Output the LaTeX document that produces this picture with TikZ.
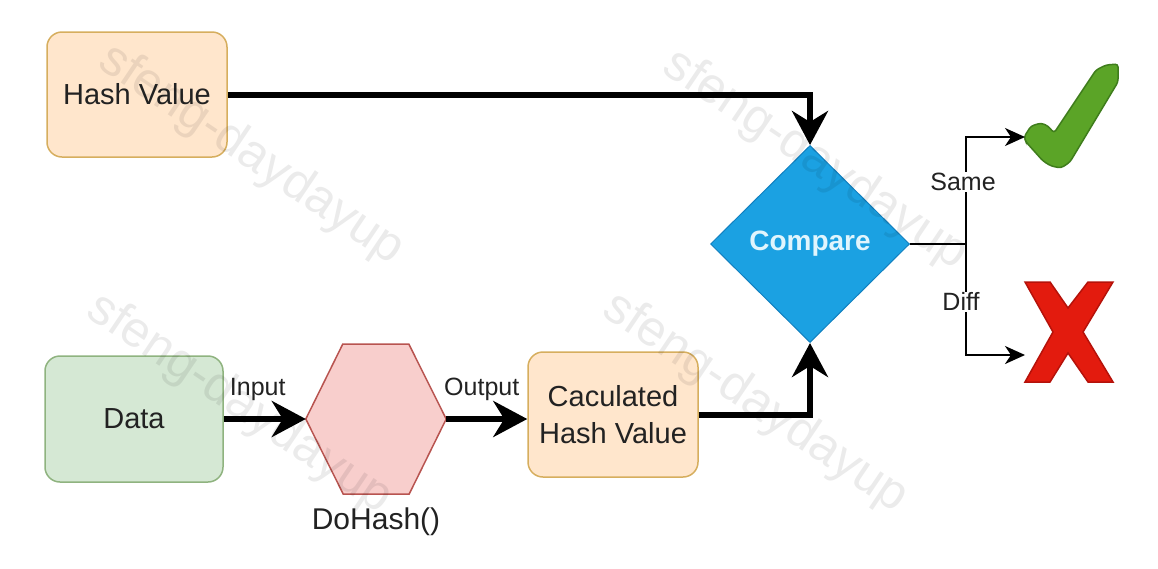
\documentclass[tikz,border=0pt]{standalone}
\usepackage{fontspec}
\setmainfont{Liberation Sans}
\usetikzlibrary{shapes.geometric,arrows.meta}
\definecolor{orfill}{HTML}{FFE6CC}
\definecolor{ordraw}{HTML}{D6AE5E}
\definecolor{grfill}{HTML}{D5E8D4}
\definecolor{grdraw}{HTML}{8FB37F}
\definecolor{rdfill}{HTML}{F8CECC}
\definecolor{rddraw}{HTML}{B85450}
\definecolor{blfill}{HTML}{1BA1E2}
\definecolor{bldraw}{HTML}{1180C0}
\definecolor{okfill}{HTML}{5BA427}
\definecolor{okdraw}{HTML}{3F7D1C}
\definecolor{nofill}{HTML}{E31B0E}
\definecolor{nodraw}{HTML}{B5120A}
\definecolor{ink}{HTML}{222222}
\begin{document}
\begin{tikzpicture}[x=1pt,y=-1pt,
    box/.style={draw, rounded corners=15pt, line width=1.5pt, inner sep=0pt,
      text=ink, align=center, font=\fontsize{29}{37}\selectfont},
    thick arrow/.style={line width=6pt, -{Stealth[length=34pt,width=36pt,inset=11pt]}},
    thin line/.style={line width=2pt},
    thin arrow/.style={line width=2pt, -{Stealth[length=20pt,width=18pt,inset=6pt]}},
    lbl/.style={text=ink, inner sep=1pt, font=\fontsize{25}{30}\selectfont},
    wmark/.style={text=black, text opacity=0.08, rotate=-34, font=\fontsize{50}{50}\selectfont}]
    \useasboundingbox (0,0) rectangle (1158,568);
    % boxes
    \node [box, fill=orfill, draw=ordraw, minimum width=180pt, minimum height=125pt] (hashval) at (137,94.5) {Hash Value};
    \node [box, fill=grfill, draw=grdraw, minimum width=178pt, minimum height=126pt] (data) at (134,419) {Data};
    \node [box, fill=orfill, draw=ordraw, minimum width=170pt, minimum height=125pt] (calc) at (613,414.5) {Caculated\\Hash Value};
    \node [diamond, aspect=1, fill=blfill, draw=bldraw, line width=1pt, minimum width=199pt, minimum height=197pt, inner sep=0pt,
      text=white!88!cyan, font=\fontsize{28}{34}\selectfont\bfseries] (cmp) at (810,244) {Compare};
    % hexagon
    \node [minimum width=140pt, minimum height=150pt, inner sep=0pt] (dohash) at (376,419) {};
    \filldraw [fill=rdfill, draw=rddraw, line width=1.5pt] (dohash.west) -- ++(37,-75) -- ++(66,0) -- (dohash.east) -- ++(-37,75) -- ++(-66,0) -- cycle;
    \node [lbl, font=\fontsize{30}{34}\selectfont, below=12pt] (dohashlbl) at (dohash.south) {DoHash()};
    % check and cross
    \coordinate (okin) at (1025,137);
    \coordinate (noin) at (1025,355);
    \filldraw [fill=okfill, draw=okdraw, line width=1.5pt, rounded corners=3pt]
      (1024,137) -- (1031,126) -- (1041,123) -- (1048,126) -- (1054,133) -- (1096,70) -- (1106,65) -- (1118,64)
      -- (1118,82) -- (1070,162) -- (1061,168) -- (1051,166) -- (1043,161) -- (1026,142) -- cycle;
    \filldraw [fill=nofill, draw=nodraw, line width=1.5pt]
      (1025,282) -- (1050,282) -- (1068,308) -- (1088,282) -- (1113,282) -- (1083,332) -- (1113,382)
      -- (1088,382) -- (1068,353) -- (1050,382) -- (1025,382) -- (1053,332) -- cycle;
    % connectors
    \draw [thick arrow] (hashval.east) -| (cmp.north);
    \draw [thick arrow] (calc.east) -| (cmp.south);
    \draw [thick arrow] (data.east) -- node [lbl, above=14pt, xshift=-7pt] {Input} (dohash.west);
    \draw [thick arrow] (dohash.east) -- node [lbl, above=14pt, xshift=-5pt] {Output} (calc.west |- dohash.east);
    \coordinate (split) at (966,244);
    \draw [thin line] (cmp.east) -- (split);
    \draw [thin arrow] (split) |- node [lbl, fill=white, pos=0.29, xshift=-3pt] {Same} (okin);
    \draw [thin arrow] (split) |- node [lbl, fill=white, pos=0.26, xshift=-5pt] {Diff} (noin);
    % watermark
    \node [wmark] (wm1) at (251,155) {sfeng-daydayup};
    \node [wmark] (wm2) at (815,160) {sfeng-daydayup};
    \node [wmark] (wm3) at (239,404) {sfeng-daydayup};
    \node [wmark] (wm4) at (755,403) {sfeng-daydayup};
\end{tikzpicture}
\end{document}
